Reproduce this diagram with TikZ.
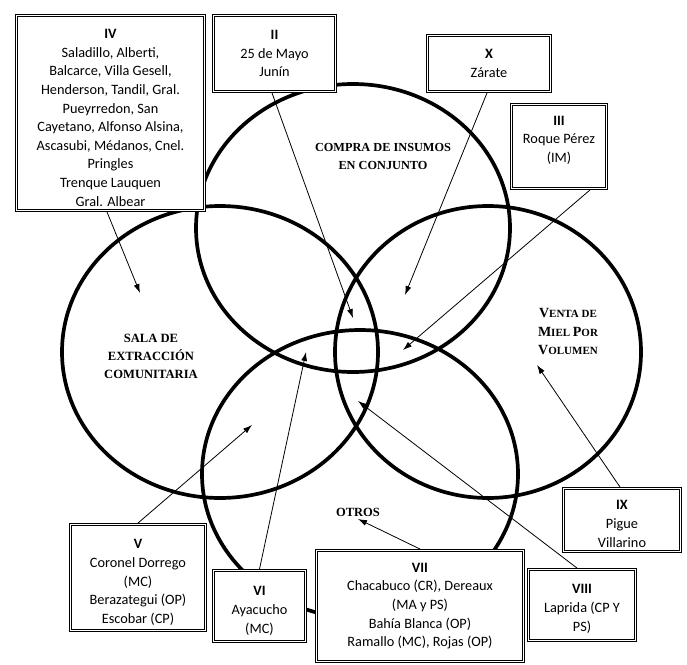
\documentclass[tikz,border=0pt]{standalone}
\usepackage{fontspec}
\newfontfamily\boxfont{Carlito}
\newfontfamily\vennfont{Liberation Serif}
\usetikzlibrary{arrows.meta}
\newcommand\vcap[1]{{\fontsize{14}{19}\selectfont #1}}
\newcommand\topgap[1]{\rule{0pt}{#1}}
\newcommand\botgap[1]{\rule[-#1]{0pt}{0pt}}
\begin{document}
\begin{tikzpicture}[x=1pt,y=-1pt,
  venn/.style={line width=3.7pt},
  box/.style={draw=black, line width=0.9pt, fill=white, align=center, inner sep=1pt, font=\boxfont\fontsize{14.3}{18.6}\selectfont},
  inner/.style={draw=black, line width=0.8pt},
  arr/.style={line width=0.8pt, -{Latex[length=9pt,width=6pt]}},
  lab/.style={font=\vennfont\bfseries\fontsize{12.3}{18}\selectfont, align=center}]
\useasboundingbox (0,0) rectangle (687,664);
% Venn ellipses
\draw[venn] (353,228) ellipse [x radius=157pt, y radius=144pt];
\draw[venn] (220,352) ellipse [x radius=158pt, y radius=146pt];
\draw[venn] (488,352) ellipse [x radius=153pt, y radius=146pt];
\draw[venn] (360,474) ellipse [x radius=158pt, y radius=144pt];
% Venn labels
\node[lab] (compra) at (383,156) {COMPRA DE INSUMOS\\EN CONJUNTO};
\node[lab, font=\vennfont\bfseries\fontsize{12.6}{18}\selectfont] (sala) at (151,356) {SALA DE\\EXTRACCIÓN\\COMUNITARIA};
\node[lab, font=\vennfont\bfseries\fontsize{11}{18.5}\selectfont] (venta) at (568,332) {\vcap{V}ENTA DE\\\vcap{M}IEL \vcap{P}OR\\\vcap{V}OLUMEN};
\node[lab, font=\vennfont\bfseries\fontsize{12.5}{14}\selectfont] (otros) at (358,512) {OTROS};
% Boxes
\node[box, minimum width=190pt, minimum height=197pt] (iv) at (110.5,113) {\topgap{19pt}\textbf{IV}\\Saladillo, Alberti,\\Balcarce, Villa Gesell,\\Henderson, Tandil, Gral.\\Pueyrredon, San\\Cayetano, Alfonso Alsina,\\Ascasubi, Médanos, Cnel.\\Pringles\\Trenque Lauquen\\Gral. Albear};
\node[box, minimum width=124pt, minimum height=78pt] (ii) at (274.5,53.5) {\textbf{II}\\25 de Mayo\\Junín};
\node[box, minimum width=125pt, minimum height=58pt] (x) at (489,63.5) {\textbf{X}\\Zárate};
\node[box, minimum width=97pt, minimum height=86pt] (iii) at (559,146.5) {\textbf{III}\\Roque Pérez\\(IM)\botgap{15pt}};
\node[box, minimum width=137pt, minimum height=108pt] (v) at (138,577.5) {\topgap{19pt}\textbf{V}\\Coronel Dorrego\\(MC)\\Berazategui (OP)\\Escobar (CP)};
\node[box, minimum width=94pt, minimum height=73pt] (vi) at (259.5,606) {\topgap{19pt}\textbf{VI}\\Ayacucho\\(MC)};
\node[box, minimum width=209pt, minimum height=113pt] (vii) at (420,606) {\textbf{VII}\\Chacabuco (CR), Dereaux\\(MA y PS)\\Bahía Blanca (OP)\\Ramallo (MC), Rojas (OP)};
\node[box, minimum width=109pt, minimum height=73pt] (viii) at (582,605) {\topgap{17pt}\textbf{VIII}\\Laprida (CP Y\\PS)};
\node[box, minimum width=119pt, minimum height=65pt] (ix) at (622,520) {\topgap{17pt}\textbf{IX}\\Pigue\\Villarino};
% inner frame of each double border
\foreach \n in {iv,ii,x,iii,v,vi,vii,viii,ix}
  \draw[inner] ([shift={(2.6pt,-2.6pt)}]\n.north west) rectangle ([shift={(-2.6pt,2.6pt)}]\n.south east);
% Arrow tips
\coordinate (tIV) at (140,293);
\coordinate (tII) at (353,318);
\coordinate (tX) at (405,295);
\coordinate (tIII) at (403,350);
\coordinate (tV) at (252,425);
\coordinate (tVI) at (306,352);
\coordinate (tVII) at (358,519);
\coordinate (tVIII) at (358,401);
\coordinate (tIX) at (537,365);
% Arrows
\draw[arr] ([xshift=-3.5pt]iv.south) -- (tIV);
\draw[arr] ([xshift=-2.5pt]ii.south) -- (tII);
\draw[arr] ([xshift=-2pt]x.south) -- (tX);
\draw[arr] ([xshift=31pt]iii.south) -- (tIII);
\draw[arr] (v.north) -- (tV);
\draw[arr] (vi.north) -- (tVI);
\draw[arr] (vii.north) -- (tVII);
\draw[arr] ([xshift=-5pt]viii.north) -- (tVIII);
\draw[arr] ([xshift=-2pt]ix.north) -- (tIX);
\end{tikzpicture}
\end{document}
